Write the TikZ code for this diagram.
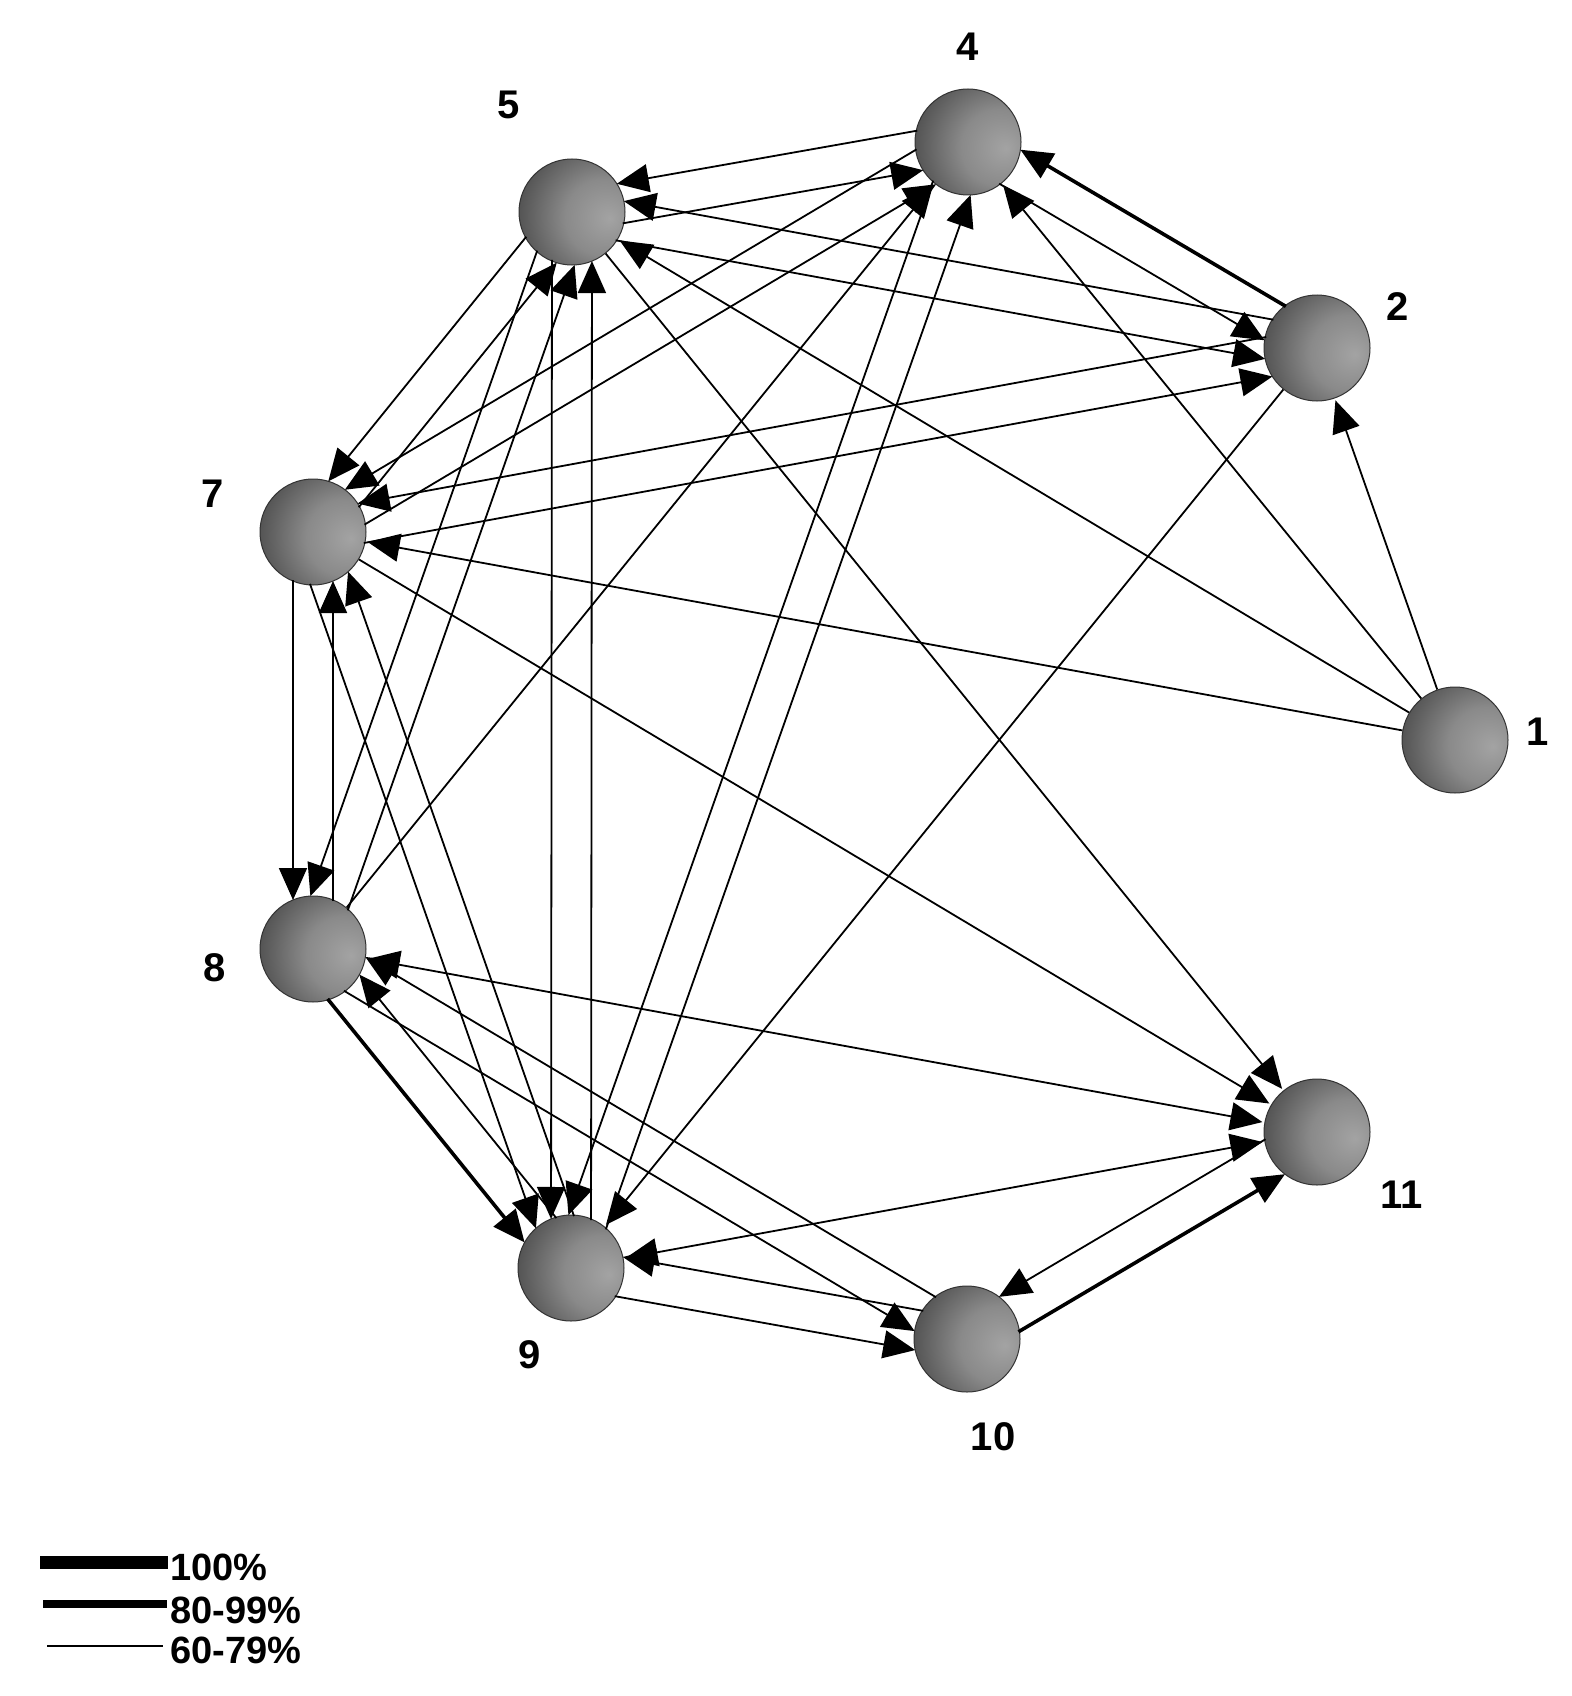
\documentclass[tikz,border=0pt]{standalone}
\usepackage{fontspec}
\setmainfont{Liberation Sans}
\usetikzlibrary{calc,arrows.meta}
\pgfdeclareradialshading{sphere}{\pgfpoint{18bp}{-3bp}}{color(0bp)=(black!36); color(18bp)=(black!46); color(32bp)=(black!62); color(46bp)=(black!77); color(58bp)=(black!86); color(100bp)=(black!88)}
\newcommand\es[3][]{\draw[edg,#1] (#2) -- (#3);}
\newcommand\eb[3][]{\draw[edg,{Triangle[length=16pt,width=14pt]}-{Triangle[length=16pt,width=14pt]},shorten <=1pt,#1] (#2) -- (#3);}
\newcommand\ed[3][]{\draw[edg,#1,shorten <=24pt,shorten >=24.5pt] ($(#2)!10pt!-90:(#3)$) -- ($(#3)!10pt!90:(#2)$);}
\begin{document}
\begin{tikzpicture}[x=0.5pt,y=-0.5pt,
  ball/.style={circle, minimum size=53pt, inner sep=0pt, shade, shading=sphere, draw=black!80, line width=0.5pt},
  lab/.style={font=\bfseries\fontsize{20}{24}\selectfont, inner sep=0pt},
  legtxt/.style={font=\bfseries\fontsize{19}{22}\selectfont, inner sep=0pt, anchor=base west},
  edg/.style={line width=0.9pt, draw=black, -{Triangle[length=16pt,width=14pt]}, shorten >=1pt},
  hv/.style={line width=1.8pt}]
\fill[white] (0,0) rectangle (1572,1696);
\useasboundingbox (0,0) rectangle (1572,1696);
% nodes
\node[ball] (n1) at (1455,740) {};
\node[ball] (n2) at (1317,348) {};
\node[ball] (n4) at (968,142) {};
\node[ball] (n5) at (572,212) {};
\node[ball] (n7) at (313,532) {};
\node[ball] (n8) at (313,949) {};
\node[ball] (n9) at (571,1268) {};
\node[ball] (n10) at (967,1339) {};
\node[ball] (n11) at (1317,1132) {};
% labels
\node[lab] (l1) at (1538,732) {1};
\node[lab] (l2) at (1398,307) {2};
\node[lab] (l4) at (968,47) {4};
\node[lab] (l5) at (509,105) {5};
\node[lab] (l7) at (213,494) {7};
\node[lab] (l8) at (215,968) {8};
\node[lab] (l9) at (530,1355) {9};
\node[lab] (l10) at (993,1437) {10};
\node[lab] (l11) at (1402,1195) {11};
% single edges
\es{n1}{n2} \es{n1}{n4} \es{n1}{n5} \es{n1}{n7}
\es{n2}{n9} \es{n5}{n11} \es{n7}{n11} \es{n8}{n4}
\eb{n8}{n11} \eb{n9}{n11}
% reciprocal edges
\ed[hv]{n2}{n4} \ed{n4}{n2}
\ed{n2}{n5} \ed{n5}{n2}
\ed{n2}{n7} \ed{n7}{n2}
\ed{n4}{n5} \ed{n5}{n4}
\ed{n4}{n7} \ed{n7}{n4}
\ed{n4}{n9} \ed{n9}{n4}
\ed{n5}{n7} \ed{n7}{n5}
\ed{n5}{n8} \ed{n8}{n5}
\ed{n5}{n9} \ed{n9}{n5}
\ed{n7}{n8} \ed{n8}{n7}
\ed{n7}{n9} \ed{n9}{n7}
\ed[hv]{n8}{n9} \ed{n9}{n8}
\ed{n8}{n10} \ed{n10}{n8}
\ed{n9}{n10} \ed{n10}{n9}
\ed[hv]{n10}{n11} \ed{n11}{n10}
% legend
\coordinate (a1) at (40,1562); \coordinate (b1) at (168,1562);
\coordinate (a2) at (43,1604); \coordinate (b2) at (167,1604);
\coordinate (a3) at (47,1646); \coordinate (b3) at (163,1646);
\draw[line width=6.5pt] (a1) -- (b1);
\draw[line width=4pt] (a2) -- (b2);
\draw[line width=1pt] (a3) -- (b3);
\node[legtxt] (t1) at (170,1580) {100\%};
\node[legtxt] (t2) at (170,1623) {80-99\%};
\node[legtxt] (t3) at (170,1663) {60-79\%};
\end{tikzpicture}
\end{document}
